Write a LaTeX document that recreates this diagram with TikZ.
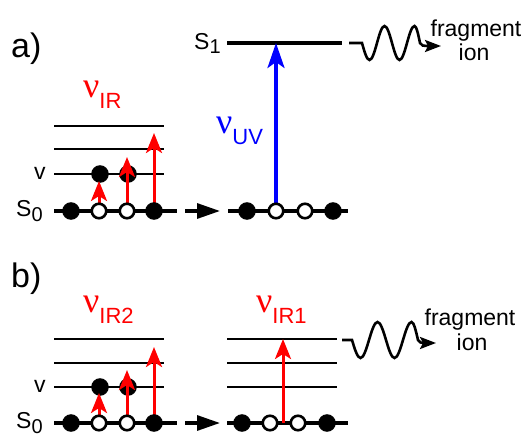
\documentclass[tikz,border=0pt]{standalone}
\usepackage{fontspec}
\setmainfont{Liberation Sans}
\newfontfamily\nufont{Liberation Serif}
\usetikzlibrary{arrows.meta}
\newcommand{\lowsub}[2]{#1\raisebox{-5pt}{\fontsize{20}{20}\selectfont #2}}
\newcommand{\freq}[1]{{\nufont\fontsize{36}{36}\selectfont ν}\raisebox{-11pt}{\fontsize{22}{22}\selectfont #1}}
\begin{document}
\begin{tikzpicture}
        [x=1pt,y=-1pt,
        every node/.style={inner sep=0pt},
        dot/.style={circle,fill=black,draw=black,line width=1pt,minimum size=16.5pt},
        hole/.style={circle,fill=white,draw=black,line width=2.6pt,minimum size=14.5pt},
        ground/.style={line width=3.2pt},
        vibline/.style={line width=2.2pt},
        irarrow/.style={red,line width=3pt,-{Stealth[length=20pt,width=16pt,inset=5pt]}},
        uvarrow/.style={blue,line width=3.4pt,-{Stealth[length=25pt,width=17pt,inset=6pt]}},
        transfer/.style={line width=3.2pt,dash pattern=on 0pt off 8pt on 12pt off 60pt,-{Triangle[length=23pt,width=15pt]}},
        wave/.style={line width=2.6pt,-{Stealth[length=16pt,width=12pt,inset=3pt]}},
        panel/.style={font=\fontsize{34}{34}\selectfont,anchor=base west},
        state/.style={font=\fontsize{23}{23}\selectfont,anchor=base west},
        freqlabel/.style={anchor=base west},
        product/.style={font=\fontsize{23}{23}\selectfont,anchor=base}]
        \useasboundingbox (0,0) rectangle (527,436);
        \node[panel] (pa) at (11,57) {a)};
        \node[panel] (pb) at (11,287) {b)};
        % a)
        \draw[vibline] (54,126) -- (164,126);
        \draw[vibline] (54,149) -- (164,149);
        \draw[vibline] (54,174) -- (164,174);
        \draw[ground] (54,211) coordinate (ga) -- (177,211) coordinate (gaend);
        \node[state] (va) at (34,179) {v};
        \node[state] (sa) at (16,216) {\lowsub{S}{0}};
        \node[freqlabel,text=red] (ira) at (83,97) {\freq{IR}};
        \coordinate (a1) at (71,211);
        \coordinate (a2) at (99,211);
        \coordinate (a3) at (127,211);
        \coordinate (a4) at (154,211);
        \node[dot] (av1) at (100,174) {};
        \node[dot] (av2) at (128,174) {};
        \coordinate (ta2) at (99,181);
        \coordinate (ta3) at (127,157);
        \coordinate (ta4) at (154,133);
        \draw[irarrow] (a2) -- (ta2);
        \draw[irarrow] (a3) -- (ta3);
        \draw[irarrow] (a4) -- (ta4);
        \node[dot] (A1) at (a1) {};
        \node[hole] (A2) at (a2) {};
        \node[hole] (A3) at (a3) {};
        \node[dot] (A4) at (a4) {};
        \coordinate (gb) at (228,211);
        \draw[transfer] (gaend) -- (220,211);
        \draw[ground] (gb) -- (348,211);
        \draw[line width=3.6pt] (227,43) coordinate (s1) -- (342,43) coordinate (s1end);
        \node[state] (s1lab) at (194,49) {\lowsub{S}{1}};
        \coordinate (b1) at (247,211);
        \coordinate (b2) at (276,211);
        \coordinate (b3) at (305,211);
        \coordinate (b4) at (333,211);
        \coordinate (tb2) at (276,43);
        \draw[uvarrow] (b2) -- (tb2);
        \node[text=blue,freqlabel] (uv) at (216,133) {\freq{UV}};
        \node[dot] (B1) at (b1) {};
        \node[hole] (B2) at (b2) {};
        \node[hole] (B3) at (b3) {};
        \node[dot] (B4) at (b4) {};
        \draw[wave] (349,43) -- (362,43) sin (369.5,60) cos (377,43) sin (384.5,26) cos (392,43)
          sin (399.5,60) cos (407,43) sin (414.5,26) cos (420,43) to[out=-70,in=180] (427,46) -- (441,46);
        \node[product] (fa) at (476,37) {fragment};
        \node[product] (ia) at (474,60) {ion};
        % b)
        \draw[vibline] (54,339) -- (164,339);
        \draw[vibline] (54,363) -- (164,363);
        \draw[vibline] (54,387) -- (164,387);
        \draw[ground] (54,423) -- (177,423) coordinate (gcend);
        \node[state] (vb) at (34,392) {v};
        \node[state] (sb) at (16,428) {\lowsub{S}{0}};
        \node[freqlabel,text=red] (ir2) at (83,312) {\freq{IR2}};
        \coordinate (c1) at (71,423);
        \coordinate (c2) at (99,423);
        \coordinate (c3) at (127,423);
        \coordinate (c4) at (154,423);
        \node[dot] (cv1) at (100,387) {};
        \node[dot] (cv2) at (128,387) {};
        \coordinate (tc2) at (99,393);
        \coordinate (tc3) at (127,370);
        \coordinate (tc4) at (154,347);
        \draw[irarrow] (c2) -- (tc2);
        \draw[irarrow] (c3) -- (tc3);
        \draw[irarrow] (c4) -- (tc4);
        \node[dot] (C1) at (c1) {};
        \node[hole] (C2) at (c2) {};
        \node[hole] (C3) at (c3) {};
        \node[dot] (C4) at (c4) {};
        \draw[transfer] (gcend) -- (220,423);
        \draw[vibline] (227,339) -- (337,339);
        \draw[vibline] (227,363) -- (337,363);
        \draw[vibline] (227,387) -- (337,387);
        \draw[ground] (227,423) -- (348,423);
        \node[freqlabel,text=red] (ir1) at (256,312) {\freq{IR1}};
        \coordinate (d1) at (242,423);
        \coordinate (d2) at (270,423);
        \coordinate (d3) at (298,423);
        \coordinate (d4) at (327,423);
        \coordinate (dm) at (283,423);
        \coordinate (td) at (283,339);
        \draw[irarrow] (dm) -- (td);
        \node[dot] (D1) at (d1) {};
        \node[hole] (D2) at (d2) {};
        \node[hole] (D3) at (d3) {};
        \node[dot] (D4) at (d4) {};
        \draw[wave] (342,340) -- (352,340) sin (360.5,358) cos (369,340) sin (377.5,322) cos (386,340)
          sin (394.5,358) cos (403,340) sin (411.5,322) cos (418,340) to[out=-70,in=180] (424,343) -- (436,343);
        \node[product] (fb) at (470,325) {fragment};
        \node[product] (ib) at (472,350) {ion};
      \end{tikzpicture}
\end{document}
